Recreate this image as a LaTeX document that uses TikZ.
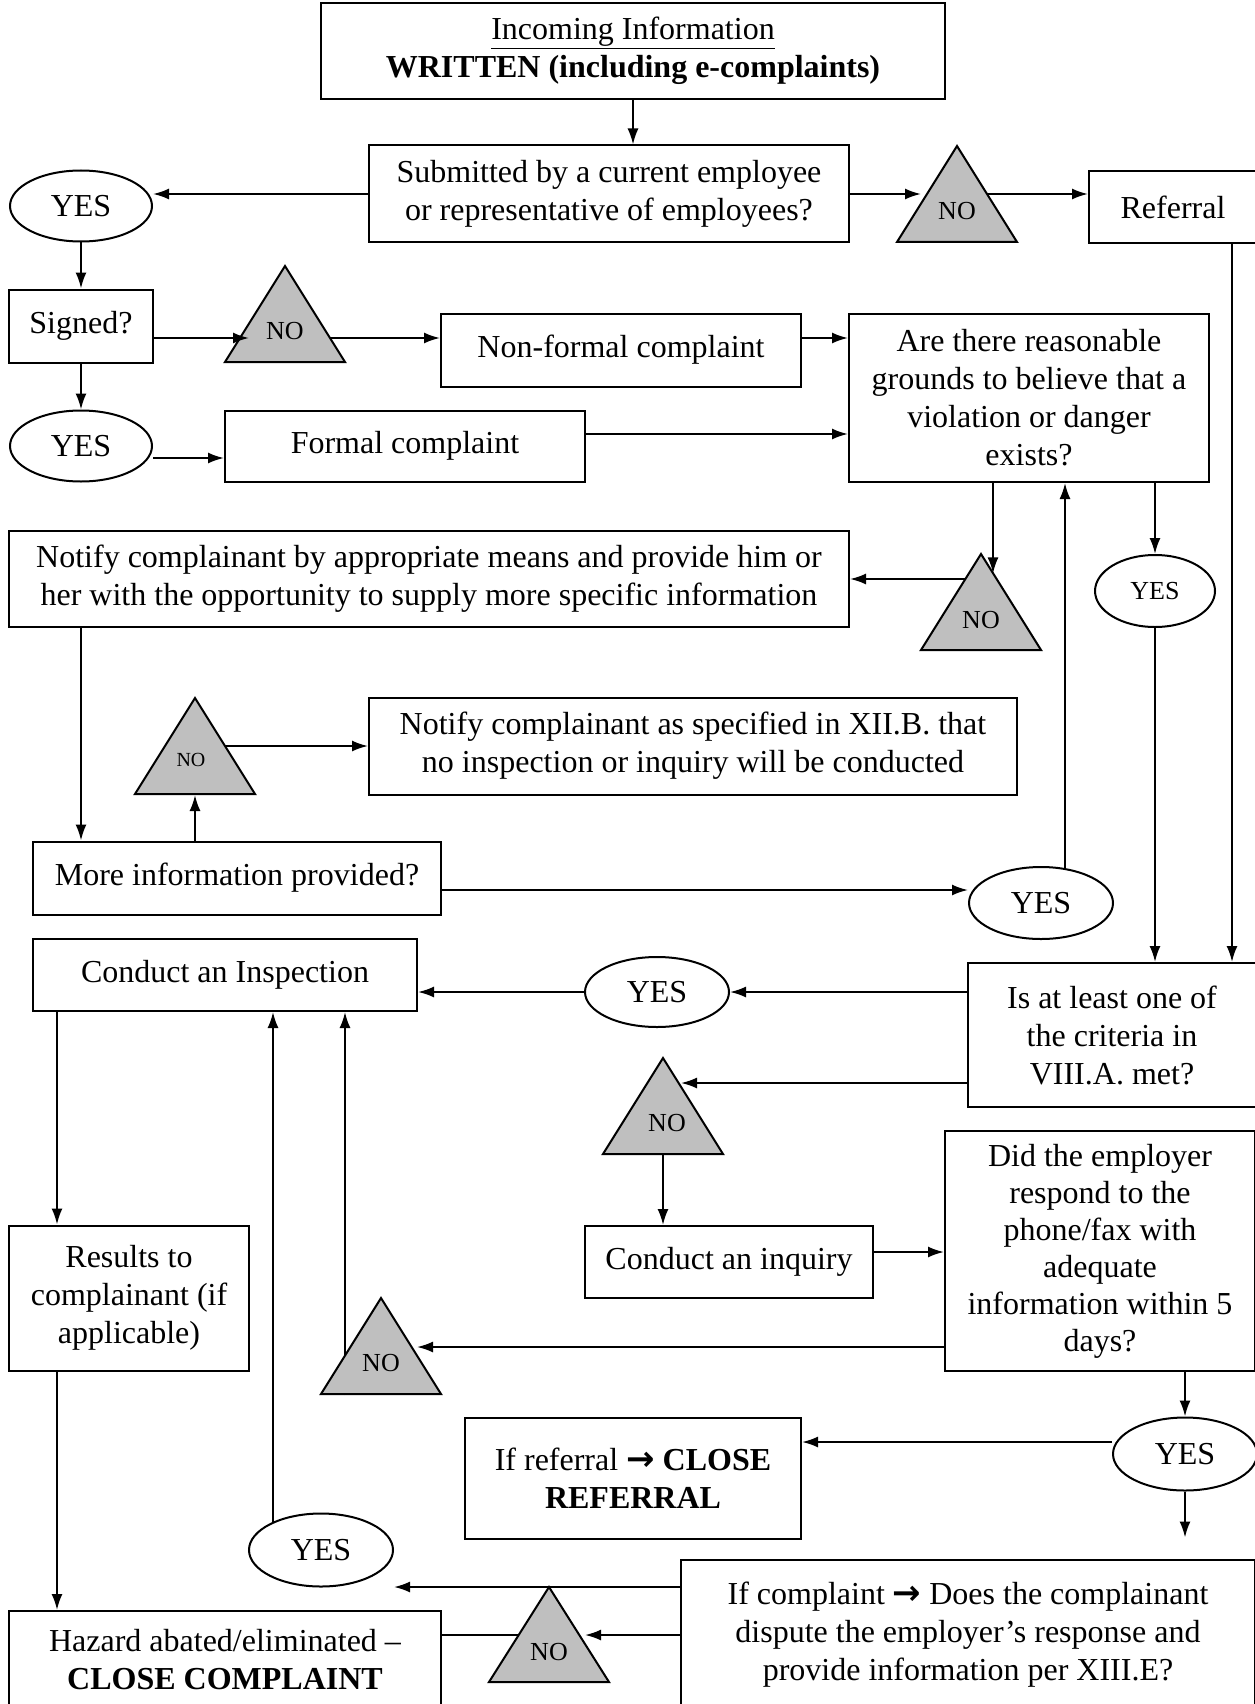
\documentclass[tikz,border=0pt]{standalone}
\usepackage{fontspec}
\setmainfont{Liberation Serif}
\newfontfamily\arrowfont{DejaVu Sans}
\newcommand\goarrow{{\arrowfont\bfseries\fontsize{34}{38}\selectfont →}}
\usetikzlibrary{shapes.geometric,arrows.meta,positioning,backgrounds}
\begin{document}
\begin{tikzpicture}[x=1pt,y=-1pt,>={Latex[length=16pt,width=11pt]},
  box/.style={draw,line width=2pt,align=center,inner sep=4pt,font=\fontsize{32}{38}\selectfont},
  yes/.style={draw,ellipse,fill=white,line width=2pt,minimum width=144,minimum height=72,inner sep=0pt,font=\fontsize{32}{38}\selectfont},
  tri/.style={draw,fill=gray!50,line width=2pt,isosceles triangle,isosceles triangle stretches,shape border rotate=90,minimum width=120,minimum height=96,inner sep=0pt,anchor=lower side},
  notxt/.style={inner sep=0pt,font=\fontsize{26}{30}\selectfont},
  conn/.style={line width=2pt},
  totri/.style={->,conn,shorten >=36pt}]
\useasboundingbox (0,0) rectangle (1254,1704);
% boxes, answers and triangles
\node[box,minimum width=624,minimum height=96] (info) at (633,51) {\underline{Incoming Information}\\\textbf{WRITTEN (including e-complaints)}};
\node[box,minimum width=480,minimum height=97] (sub) at (609,194) {Submitted by a current employee\\or representative of employees?};
\node[yes,minimum width=142,minimum height=71] (yes1) at (81,206) {YES};
\node[tri] (no1) at (957,243) {}; \node[notxt] (no1t) at (957,211) {NO};
\node[box,minimum width=168,minimum height=72] (ref) at (1173,207) {Referral};
\node[box,minimum width=144,minimum height=73] (signed) at (81,326) {Signed?};
\node[tri] (no2) at (285,363) {}; \node[notxt] (no2t) at (285,331) {NO};
\node[box,minimum width=360,minimum height=73] (nonf) at (621,350) {Non-formal complaint};
\node[box,minimum width=360,minimum height=168] (reason) at (1029,398) {Are there reasonable\\grounds to believe that a\\violation or danger\\exists?};
\node[yes,minimum width=142,minimum height=71] (yes2) at (81,446) {YES};
\node[box,minimum width=360,minimum height=71] (formal) at (405,446) {Formal complaint};
\node[box,minimum width=840,minimum height=96] (notify) at (429,579) {Notify complainant by appropriate means and provide him or\\her with the opportunity to supply more specific information};
\node[tri] (no3) at (981,651) {}; \node[notxt] (no3t) at (981,620) {NO};
\node[yes,minimum width=120,font=\fontsize{26}{30}\selectfont] (yes3) at (1155,591) {YES};
\node[box,minimum width=648,minimum height=97] (notify2) at (693,746) {Notify complainant as specified in XII.B. that\\no inspection or inquiry will be conducted};
\node[tri] (no4) at (195,795) {}; \node[notxt,font=\fontsize{20}{24}\selectfont] (no4t) at (191,760) {NO};
\node[box,minimum width=408,minimum height=73] (more) at (237,878) {More information provided?};
\node[yes] (yes4) at (1041,903) {YES};
\node[box,minimum width=384,minimum height=72] (insp) at (225,975) {Conduct an Inspection};
\node[yes,minimum height=70] (yes5) at (657,992) {YES};
\node[box,minimum width=288,minimum height=144] (crit) at (1112,1035) {Is at least one of\\the criteria in\\VIII.A. met?};
\node[tri] (no5) at (663,1155) {}; \node[notxt] (no5t) at (667,1123) {NO};
\node[box,minimum width=288,minimum height=72] (inq) at (729,1262) {Conduct an inquiry};
\node[box,minimum width=310,minimum height=240,font=\fontsize{32}{37}\selectfont] (did) at (1100,1251) {Did the employer\\respond to the\\phone/fax with\\adequate\\information within 5\\days?};
\node[box,minimum width=240,minimum height=145] (results) at (129,1298) {Results to\\complainant (if\\applicable)};
\node[tri] (no6) at (381,1395) {}; \node[notxt] (no6t) at (381,1363) {NO};
\node[yes,minimum height=73] (yes7) at (1185,1454) {YES};
\node[box,minimum width=336,minimum height=121] (closeref) at (633,1478) {If referral \goarrow{} \textbf{CLOSE}\\\textbf{REFERRAL}};
\node[yes,minimum height=73] (yes6) at (321,1550) {YES};
\node[box,minimum width=574,minimum height=150] (compl) at (968,1635) {If complaint \goarrow{} Does the complainant\\dispute the employer’s response and\\provide information per XIII.E?};
\node[tri,minimum height=95] (no7) at (549,1683) {}; \node[notxt] (no7t) at (549,1652) {NO};
\node[box,minimum width=432,minimum height=98] (hazard) at (225,1660) {Hazard abated/eliminated –\\\textbf{CLOSE COMPLAINT}};
\coordinate[below=46pt of yes7.south] (yes7end);
% connectors
\draw[->,conn] (info.south) -- (info.south |- sub.north);
\draw[->,conn] (sub.west) -- (sub.west -| yes1.east);
\draw[totri] (sub.east) -- (sub.east -| no1.apex);
\draw[->,conn] ([xshift=59]ref.south) -- ([xshift=59]ref.south |- crit.north);
\draw[->,conn] (yes1) -- (signed);
\draw[totri] ([yshift=-12]signed.east) -- ([yshift=-12]signed.east -| no2.apex);
\draw[->,conn] ([yshift=12]nonf.east) -- ([yshift=12]nonf.east -| reason.west);
\draw[->,conn] (signed) -- (yes2);
\draw[->,conn] ([yshift=-12]yes2.east) -- ([yshift=-12]yes2.east -| formal.west);
\draw[->,conn] ([yshift=12]formal.east) -- ([yshift=12]formal.east -| reason.west);
\draw[->,conn,shorten >=-22pt] ([xshift=-36]reason.south) -- ([xshift=-36]reason.south |- no3.apex);
\draw[->,conn] (reason.south -| yes3) -- (yes3);
\draw[->,conn] (yes3) -- (yes3 |- crit.north);
\draw[->,conn] (signed |- notify.south) -- (signed |- more.north);
\draw[->,conn] (no4.lower side |- more.north) -- (no4.lower side);
\draw[->,conn] ([yshift=-12]more.east) -- ([yshift=-12]more.east -| yes4.west);
\draw[->,conn] ([yshift=43]crit.west) -- ([yshift=43]crit.west -| yes5.east);
\draw[->,conn] (yes5) -- (yes5 -| insp.east);
\draw[totri,shorten >=18pt] ([yshift=-48]crit.west) -- ([yshift=-48]crit.west -| no5.apex);
\draw[->,conn] (no5.lower side) -- (no5.lower side |- inq.north);
\draw[->,conn] ([yshift=10]inq.east) -- ([yshift=10]inq.east -| did.west);
\draw[->,conn] ([xshift=-168]insp.south) -- ([xshift=-168]insp.south |- results.north);
\draw[totri] ([yshift=-96]did.west) -- ([yshift=-96]did.west -| no6.apex);
\draw[->,conn] (did.south -| yes7) -- (yes7);
\draw[->,conn] ([yshift=12]yes7.west) -- ([yshift=12]yes7.west -| closeref.east);
\draw[->,conn] (yes7) -- (yes7end);
\draw[->,conn] ([yshift=48]compl.west) -- ([yshift=48]compl.west -| yes6.east);
\draw[totri] (compl.west) -- (compl.west -| no7.apex);
\draw[->,conn] ([xshift=-72]results.south) -- ([xshift=-72]results.south |- hazard.north);
\begin{scope}[on background layer]
\draw[->,conn] (sub.east -| no1.apex) -- (sub.east -| ref.west);
\draw[->,conn] ([yshift=-12]signed.east -| no2.apex) -- ([yshift=-12]signed.east -| nonf.west);
\draw[->,conn] (notify.east -| no3.apex) -- (notify.east);
\draw[->,conn] (notify2.west -| no4.apex) -- (notify2.west);
\draw[->,conn] ([xshift=24]yes4.center) -- ([xshift=24]yes4.center |- reason.south);
\draw[->,conn] ([xshift=-48]yes6.center) -- ([xshift=-48]yes6.center |- insp.south);
\draw[->,conn] ([xshift=-36]no6.lower side) -- ([xshift=-36]no6.lower side |- insp.south);
\draw[conn] (compl.west -| no7.apex) -- (compl.west -| hazard.east);
\end{scope}
\end{tikzpicture}
\end{document}
